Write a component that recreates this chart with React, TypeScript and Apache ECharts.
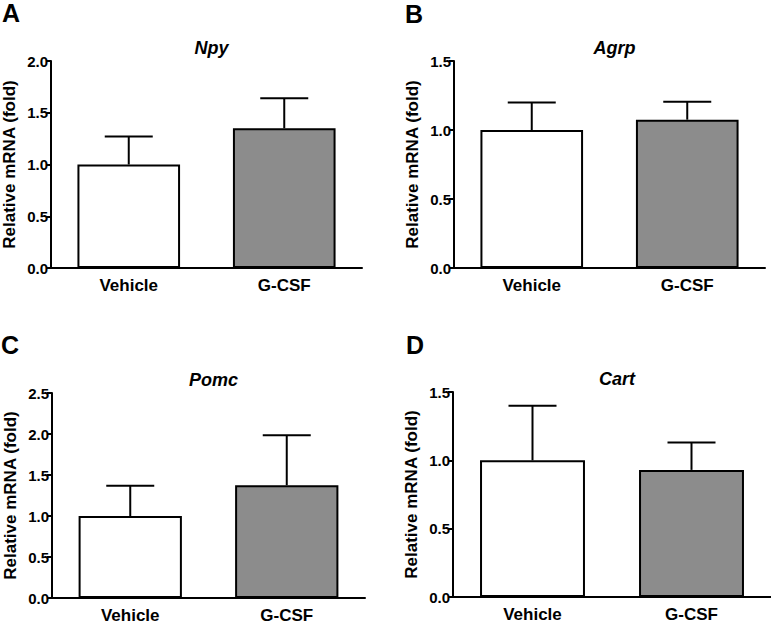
import React, { useEffect, useRef } from "react";
import * as echarts from "echarts";

const categories = ["Vehicle", "G-CSF"];
const panelLetters = ["A", "B", "C", "D"];
const geneNames = ["Npy", "Agrp", "Pomc", "Cart"];
const npyMean = [1.0, 1.35];
const npyErr = [0.27, 0.29];
const agrpMean = [1.0, 1.075];
const agrpErr = [0.2, 0.13];
const pomcMean = [1.0, 1.375];
const pomcErr = [0.37, 0.61];
const cartMean = [1.0, 0.93];
const cartErr = [0.4, 0.2];
const yMaxes = [2.0, 1.5, 2.5, 1.5];
const yInterval = 0.5;
const yAxisName = "Relative mRNA (fold)";

const means = [npyMean, agrpMean, pomcMean, cartMean];
const errs = [npyErr, agrpErr, pomcErr, cartErr];

const FONT = '"Liberation Sans", Arial, Helvetica, sans-serif';
const barColors = ["#ffffff", "#8c8c8c"];

// layout of each panel's plotting grid
const grids = [
  { left: 51, top: 61, width: 311, height: 207 },
  { left: 454, top: 61, width: 311, height: 207 },
  { left: 52, top: 393, width: 313, height: 206 },
  { left: 453, top: 392, width: 318, height: 205 },
];
const letterPos = [
  { x: 2, y: 12 },
  { x: 405, y: 13 },
  { x: 1, y: 344 },
  { x: 406, y: 344 },
];

export default function App() {
  const ref = useRef<HTMLDivElement>(null);
  useEffect(() => {
    if (!ref.current) return;
    const chart = echarts.init(ref.current, undefined, { renderer: "svg" });

    const gridOpts: any[] = [];
    const xAxes: any[] = [];
    const yAxes: any[] = [];
    const series: any[] = [];
    const titles: any[] = [];
    const graphics: any[] = [];

    for (let i = 0; i < 4; i++) {
      const g = grids[i];
      gridOpts.push({ left: g.left, top: g.top, width: g.width, height: g.height, containLabel: false });
      xAxes.push({
        type: "category",
        gridIndex: i,
        data: categories,
        boundaryGap: true,
        axisLine: { show: true, lineStyle: { color: "#000", width: 2 } },
        axisTick: { show: false },
        axisLabel: { color: "#000", fontFamily: FONT, fontWeight: "bold", fontSize: 17, margin: 9 },
        splitLine: { show: false },
      });
      yAxes.push({
        type: "value",
        gridIndex: i,
        min: 0,
        max: yMaxes[i],
        interval: yInterval,
        name: yAxisName,
        nameLocation: "middle",
        nameGap: 33,
        nameRotate: 90,
        nameTextStyle: { color: "#000", fontFamily: FONT, fontWeight: "bold", fontSize: 17 },
        axisLine: { show: true, lineStyle: { color: "#000", width: 2 } },
        axisTick: { show: true, length: 5, inside: false, lineStyle: { color: "#000", width: 2 } },
        axisLabel: {
          color: "#000",
          fontFamily: FONT,
          fontWeight: "bold",
          fontSize: 15,
          margin: 3,
          formatter: (v: number) => v.toFixed(1),
        },
        splitLine: { show: false },
      });
      titles.push({
        text: geneNames[i],
        left: g.left + g.width / 2,
        top: g.top - 27,
        textAlign: "center",
        textStyle: { color: "#000", fontFamily: FONT, fontWeight: "bold", fontStyle: "italic", fontSize: 18 },
      });
      graphics.push({
        type: "text",
        left: letterPos[i].x,
        top: letterPos[i].y - 12,
        style: { text: panelLetters[i], fill: "#000", font: `bold 25px ${FONT}` },
      });

      const errData = categories.map((c, k) => [k, means[i][k], errs[i][k]]);
      series.push({
        type: "custom",
        xAxisIndex: i,
        yAxisIndex: i,
        z: 1,
        data: errData,
        renderItem: (params: any, api: any) => {
          const idx = api.value(0);
          const m = api.value(1);
          const e = api.value(2);
          const p0 = api.coord([idx, m]);
          const p1 = api.coord([idx, m + e]);
          const half = 24;
          const style = { stroke: "#000", lineWidth: 2 };
          return {
            type: "group",
            children: [
              { type: "line", shape: { x1: p0[0], y1: p0[1], x2: p1[0], y2: p1[1] }, style },
              { type: "line", shape: { x1: p1[0] - half, y1: p1[1], x2: p1[0] + half, y2: p1[1] }, style },
            ],
          };
        },
      });
      series.push({
        type: "bar",
        xAxisIndex: i,
        yAxisIndex: i,
        z: 2,
        barWidth: "66%",
        data: means[i].map((v, k) => ({
          value: v,
          itemStyle: { color: barColors[k], borderColor: "#000", borderWidth: 2 },
        })),
      });
    }

    chart.setOption({
      animation: false,
      backgroundColor: "#fff",
      title: titles,
      grid: gridOpts,
      xAxis: xAxes,
      yAxis: yAxes,
      series,
      graphic: graphics,
    });
    return () => chart.dispose();
  }, []);
  return (
    <div
      ref={ref}
      style={{ position: "absolute", left: 0, top: 0, width: 771, height: 624 }}
    />
  );
}
